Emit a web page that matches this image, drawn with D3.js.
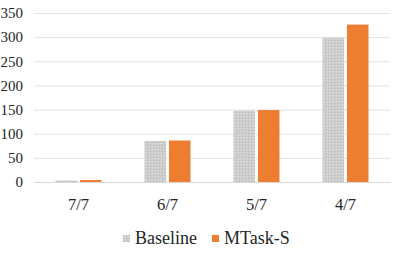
<!DOCTYPE html>
<html>
<head>
<meta charset="utf-8">
<script src="https://cdn.jsdelivr.net/npm/d3@7"></script>
<style>
  body { margin: 0; background: white; }
</style>
</head>
<body>
<div id="chart"></div>
<script>
    // data
    var categories = ["7/7", "6/7", "5/7", "4/7"];
    var seriesNames = ["Baseline", "MTask-S"];
    var baseline = [3, 85, 148, 299];
    var mtask = [4, 86, 149, 326];
    var yTicks = [0, 50, 100, 150, 200, 250, 300, 350];

    var orange = "#ED7D31";
    var gridColor = "#E3E3E3";
    var serif = "Liberation Serif";
    var textColor = "#262626";

    const margin = { top: 13, right: 20, bottom: 71, left: 34 },
      width = 410 - margin.left - margin.right,
      height = 253 - margin.top - margin.bottom;

    const svg = d3.select("#chart")
      .append("svg")
      .attr("width", 410)
      .attr("height", 253);

    // dotted grey fill for baseline bars
    const pat = svg.append("defs").append("pattern")
      .attr("id", "dots")
      .attr("patternUnits", "userSpaceOnUse")
      .attr("width", 3)
      .attr("height", 3);
    pat.append("rect").attr("width", 3).attr("height", 3).attr("fill", "#CFCFCF");
    pat.append("rect").attr("x", 0).attr("y", 0).attr("width", 1).attr("height", 1).attr("fill", "#B5B5B5");
    pat.append("rect").attr("x", 2).attr("y", 1).attr("width", 1).attr("height", 1).attr("fill", "#DADADA");

    const g = svg.append("g")
      .attr("transform", `translate(${margin.left},${margin.top})`);

    const x = d3.scaleBand()
      .domain(categories)
      .range([0, width]);

    const x1 = d3.scaleBand()
      .domain(seriesNames)
      .range([x.bandwidth() / 2 - 23, x.bandwidth() / 2 + 23])
      .paddingInner(0.12);

    const y = d3.scaleLinear()
      .domain([0, 350])
      .range([height, 0]);

    // gridlines
    g.append("g")
      .call(d3.axisLeft(y).tickValues(yTicks).tickSize(-width).tickFormat(""))
      .call(a => a.select(".domain").remove())
      .selectAll("line")
      .attr("stroke", gridColor);

    // y labels
    g.append("g")
      .call(d3.axisLeft(y).tickValues(yTicks).tickSize(0).tickPadding(11))
      .attr("font-family", serif)
      .attr("font-size", 15)
      .call(a => a.select(".domain").remove())
      .selectAll("text")
      .attr("fill", textColor);

    // x labels
    g.append("g")
      .attr("transform", `translate(0,${height})`)
      .call(d3.axisBottom(x).tickSize(0).tickPadding(16))
      .attr("font-family", serif)
      .attr("font-size", 16.5)
      .call(a => a.select(".domain").attr("stroke", "#D9D9D9"))
      .selectAll("text")
      .attr("fill", textColor);

    const rows = categories.map(function (c, i) {
      return { cat: c, values: [{ name: "Baseline", v: baseline[i] }, { name: "MTask-S", v: mtask[i] }] };
    });

    g.selectAll(".grp")
      .data(rows)
      .enter()
      .append("g")
      .attr("transform", d => `translate(${x(d.cat)},0)`)
      .selectAll("rect")
      .data(d => d.values)
      .enter()
      .append("rect")
      .attr("x", d => x1(d.name))
      .attr("width", x1.bandwidth())
      .attr("y", d => y(d.v))
      .attr("height", d => height - y(d.v))
      .attr("fill", d => d.name === "Baseline" ? "url(#dots)" : orange);

    // legend
    const legend = svg.append("g")
      .attr("transform", "translate(123,238)")
      .attr("font-family", serif)
      .attr("font-size", 18);
    const items = [{ name: "Baseline", fill: "url(#dots)", x: 0 }, { name: "MTask-S", fill: orange, x: 89 }];
    items.forEach(function (it) {
      legend.append("rect")
        .attr("x", it.x).attr("y", -3)
        .attr("width", 7).attr("height", 7)
        .attr("fill", it.fill);
      legend.append("text")
        .attr("x", it.x + 12).attr("y", 6)
        .attr("fill", textColor)
        .text(it.name);
    });
</script>
</body>
</html>
